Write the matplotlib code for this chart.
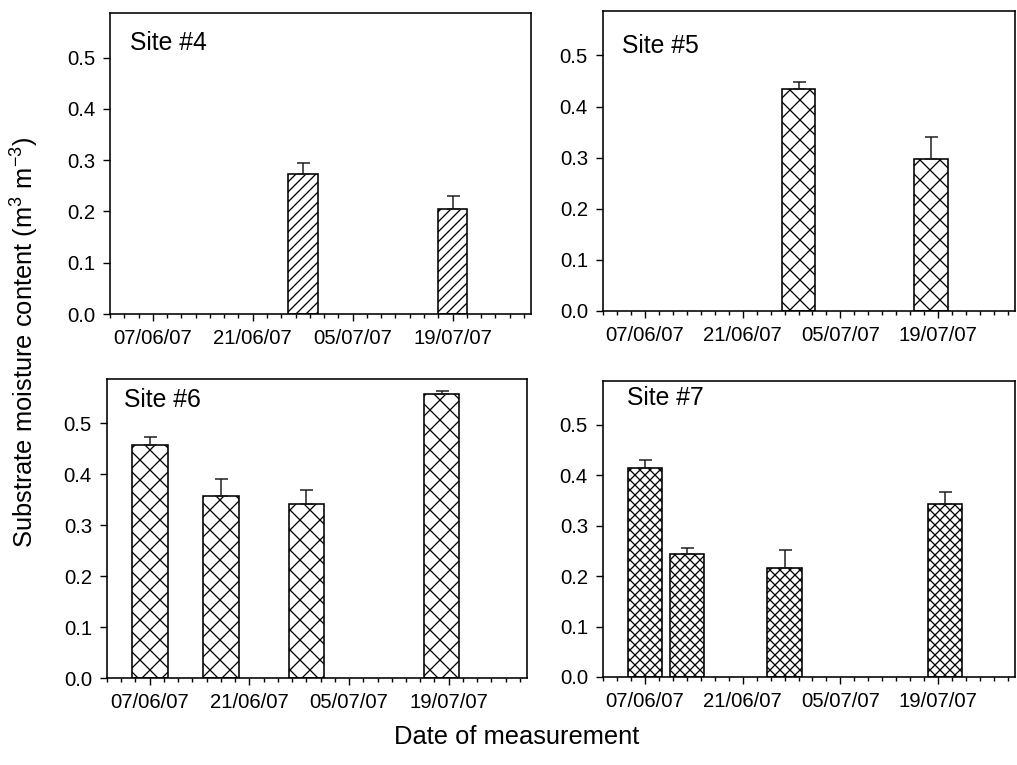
from datetime import date
import numpy as np
import matplotlib
matplotlib.use('Agg')
import matplotlib.pyplot as plt
import matplotlib.dates as mdates
from matplotlib.ticker import FormatStrFormatter

DPI = 60
W, H = 1017, 765

def px(v):
    # pixels -> points at this dpi
    return v * 72.0 / DPI

plt.rcParams['font.family'] = ['Liberation Sans', 'DejaVu Sans']
plt.rcParams['mathtext.fontset'] = 'custom'
plt.rcParams['mathtext.rm'] = 'Liberation Sans'
plt.rcParams['mathtext.it'] = 'Liberation Sans:italic'
plt.rcParams['hatch.linewidth'] = px(1.3)
plt.rcParams['hatch.color'] = 'black'

# data
site_names = ['Site #4', 'Site #5', 'Site #6', 'Site #7']

dates4 = [date(2007, 6, 28), date(2007, 7, 19)]
moist4 = [0.273, 0.205]
err4 = [0.022, 0.025]

dates5 = [date(2007, 6, 29), date(2007, 7, 18)]
moist5 = [0.435, 0.297]
err5 = [0.014, 0.043]

dates6 = [date(2007, 6, 7), date(2007, 6, 17), date(2007, 6, 29), date(2007, 7, 18)]
moist6 = [0.457, 0.358, 0.341, 0.557]
err6 = [0.016, 0.033, 0.028, 0.007]

dates7 = [date(2007, 6, 7), date(2007, 6, 13), date(2007, 6, 27), date(2007, 7, 20)]
moist7 = [0.415, 0.243, 0.217, 0.343]
err7 = [0.015, 0.012, 0.034, 0.023]

tick_dates = [date(2007, 6, 7), date(2007, 6, 21), date(2007, 7, 5), date(2007, 7, 19)]
tick_labels = ['07/06/07', '21/06/07', '05/07/07', '19/07/07']
x_start, x_end = date(2007, 6, 1), date(2007, 7, 30)

panels = [
    # (dates, values, errors, hatch, bar width in days, box l, t, r, b in px, label pos)
    (dates4, moist4, err4, '//', 4.2, (110, 13, 531, 314), (130, 50)),
    (dates5, moist5, err5, 'x', 4.8, (603, 11, 1015, 311), (622, 53)),
    (dates6, moist6, err6, 'x', 5.0, (107, 379, 527, 678), (124, 407)),
    (dates7, moist7, err7, 'xx', 4.9, (603, 381, 1015, 677), (627, 405)),
]

fig = plt.figure(figsize=(W / DPI, H / DPI), dpi=DPI)

for name, (dts, vals, errs, hatch, bw, box, lab) in zip(site_names, panels):
    l, t, r, b = box
    ax = fig.add_axes([l / W, 1 - b / H, (r - l) / W, (b - t) / H])
    x = mdates.date2num(dts)
    ax.bar(x, vals, width=bw, color='white', edgecolor='black',
           hatch=hatch, linewidth=px(1.6), zorder=2)
    ax.errorbar(x, vals, yerr=[np.zeros(len(errs)), errs], fmt='none',
                ecolor='#1a1a1a', elinewidth=px(1.5), capsize=px(6.5),
                capthick=px(1.5), zorder=3)

    ax.set_xlim(mdates.date2num(x_start), mdates.date2num(x_end))
    ax.set_ylim(0, 0.587)
    ax.set_xticks(mdates.date2num(tick_dates))
    ax.set_xticklabels(tick_labels)
    ax.set_xticks(np.arange(mdates.date2num(x_start), mdates.date2num(x_end), 2), minor=True)
    ax.set_yticks([0.0, 0.1, 0.2, 0.3, 0.4, 0.5])
    ax.yaxis.set_major_formatter(FormatStrFormatter('%.1f'))

    ax.tick_params(axis='both', which='major', direction='out', length=px(7),
                   width=px(1.4), labelsize=px(20.3), pad=px(8), colors='black')
    ax.tick_params(axis='x', which='minor', direction='out', length=px(4),
                   width=px(1.4))
    ax.tick_params(axis='y', which='minor', left=False)
    for sp in ax.spines.values():
        sp.set_linewidth(px(1.6))

    ax.text((lab[0] - l) / (r - l), (b - lab[1]) / (b - t), name,
            transform=ax.transAxes, fontsize=px(24.7), ha='left', va='baseline')

fig.text(25 / W, 1 - 343 / H, 'Substrate moisture content (m$^3$ m$^{-3}$)',
         rotation=90, ha='center', va='center', fontsize=px(25.5))
fig.text(517 / W, 1 - 737 / H, 'Date of measurement',
         ha='center', va='center', fontsize=px(25.5))

fig.savefig('out.png', dpi=DPI)
